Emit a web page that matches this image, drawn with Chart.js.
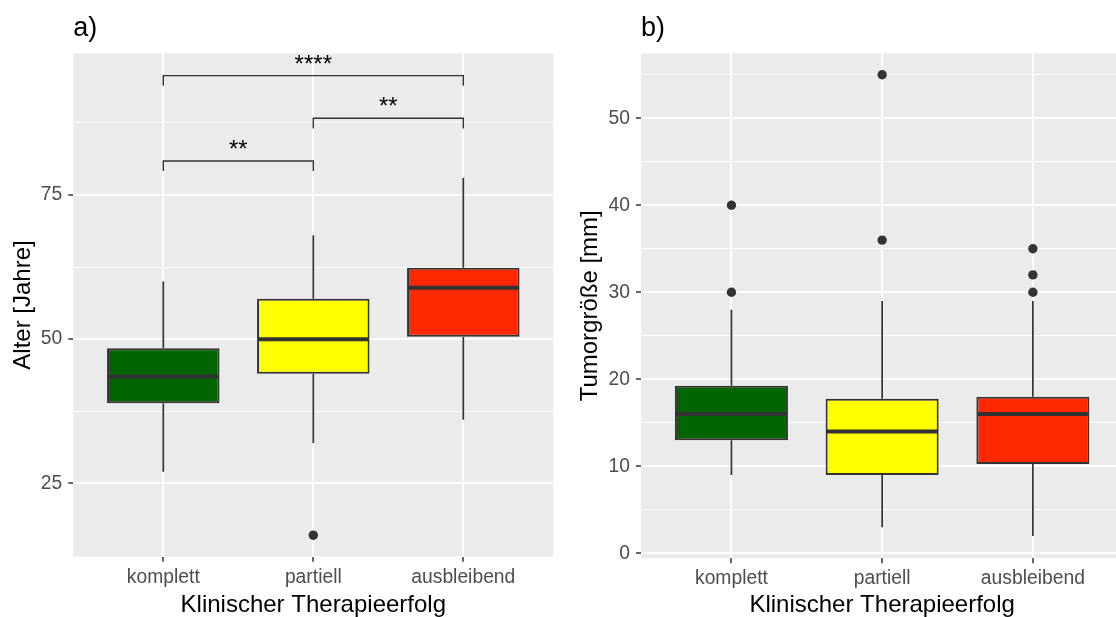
<!DOCTYPE html>
<html>
<head>
<meta charset="utf-8">
<title>Therapieerfolg</title>
<script src="https://cdn.jsdelivr.net/npm/chart.js@4.4.0/dist/chart.umd.min.js"></script>
<style>
  html, body { margin: 0; padding: 0; background: #fff; overflow: hidden; }
  #wrap { position: relative; width: 1116px; height: 617px; overflow: hidden; }
  #panel-a { position: absolute; left: 0; top: 0; }
  #panel-b { position: absolute; left: 558px; top: 0; }
</style>
</head>
<body>
<div id="wrap">
  <canvas id="panel-a" width="558" height="617"></canvas>
  <canvas id="panel-b" width="570" height="617"></canvas>
</div>
<script>
const categories = ['komplett', 'partiell', 'ausbleibend'];
const boxColors = ['#006400', '#FFFF00', '#FF2800'];

// a) Alter
const alterLower = [27, 32, 36];
const alterQ1 = [38.9, 44, 50.4];
const alterMedian = [43.5, 50, 58.9];
const alterQ3 = [48.4, 57, 62.4];
const alterUpper = [60, 68, 78];
const alterOutlierGroup = [1];
const alterOutlierValue = [16];
const alterTicks = [25, 50, 75];
const alterMinorTicks = [37.5, 62.5, 87.5];

// Signifikanz-Klammern (nur a)
const bracketFrom = [0, 1, 0];
const bracketTo = [1, 2, 2];
const bracketY = [80.9, 88.3, 95.7];
const bracketLabel = ['**', '**', '****'];

// b) Tumorgröße
const tumorLower = [9, 3, 2];
const tumorQ1 = [13, 9, 10.25];
const tumorMedian = [16, 14, 16];
const tumorQ3 = [19.25, 17.75, 18];
const tumorUpper = [28, 29, 29];
const tumorOutlierGroup = [0, 0, 1, 1, 2, 2, 2];
const tumorOutlierValue = [30, 40, 36, 55, 30, 32, 35];
const tumorTicks = [0, 10, 20, 30, 40, 50];
const tumorMinorTicks = [5, 15, 25, 35, 45, 55];

const FONT = '"Liberation Sans", Arial, Helvetica, sans-serif';
const INK = '#333333';
Chart.defaults.font.family = FONT;

const panelBackground = {
  id: 'panelBackground',
  beforeDraw(chart) {
    const {ctx, chartArea: a} = chart;
    ctx.save();
    ctx.fillStyle = '#EBEBEB';
    ctx.fillRect(a.left, a.top, a.right - a.left, a.bottom - a.top);
    ctx.restore();
  }
};

// whiskers behind the boxes, median bars on top of them
function boxParts(lower, q1, median, q3, upper) {
  return {
    id: 'boxParts',
    beforeDatasetsDraw(chart) {
      const {ctx, scales: {x, y}} = chart;
      ctx.save();
      ctx.strokeStyle = INK;
      ctx.lineWidth = 1.7;
      lower.forEach((lo, i) => {
        const px = x.getPixelForValue(i);
        ctx.beginPath();
        ctx.moveTo(px, y.getPixelForValue(upper[i]));
        ctx.lineTo(px, y.getPixelForValue(q3[i]));
        ctx.moveTo(px, y.getPixelForValue(q1[i]));
        ctx.lineTo(px, y.getPixelForValue(lo));
        ctx.stroke();
      });
      ctx.restore();
    },
    afterDatasetDraw(chart, args) {
      if (args.index !== 0) return;
      const {ctx, scales: {y}} = chart;
      const bars = chart.getDatasetMeta(0).data;
      ctx.save();
      ctx.strokeStyle = INK;
      ctx.lineWidth = 4;
      median.forEach((m, i) => {
        const b = bars[i];
        const py = y.getPixelForValue(m);
        ctx.beginPath();
        ctx.moveTo(b.x - b.width / 2 + 1, py);
        ctx.lineTo(b.x + b.width / 2 - 1, py);
        ctx.stroke();
      });
      ctx.restore();
    }
  };
}

function tag(text) {
  return {
    id: 'tag',
    afterDraw(chart) {
      const {ctx, chartArea} = chart;
      ctx.save();
      ctx.fillStyle = '#000';
      ctx.font = '27px ' + FONT;
      ctx.textAlign = 'left';
      ctx.textBaseline = 'alphabetic';
      ctx.fillText(text, chartArea.left, 36);
      ctx.restore();
    }
  };
}

const brackets = {
  id: 'brackets',
  afterDatasetsDraw(chart) {
    const {ctx, scales: {x, y}} = chart;
    const tip = 1.75;
    ctx.save();
    ctx.strokeStyle = INK;
    ctx.lineWidth = 1.4;
    ctx.fillStyle = '#000';
    ctx.font = '24px ' + FONT;
    ctx.textAlign = 'center';
    ctx.textBaseline = 'alphabetic';
    bracketY.forEach((v, i) => {
      const x0 = x.getPixelForValue(bracketFrom[i]);
      const x1 = x.getPixelForValue(bracketTo[i]);
      const py = y.getPixelForValue(v);
      const pt = y.getPixelForValue(v - tip);
      ctx.beginPath();
      ctx.moveTo(x0, pt);
      ctx.lineTo(x0, py);
      ctx.lineTo(x1, py);
      ctx.lineTo(x1, pt);
      ctx.stroke();
      ctx.fillText(bracketLabel[i], (x0 + x1) / 2, py - 4);
    });
    ctx.restore();
  }
};

function makePanel(canvasId, p) {
  const config = {
    type: 'bar',
    data: {
      datasets: [{
        type: 'bar',
        data: categories.map((c, i) => ({x: i, y: [p.q1[i], p.q3[i]]})),
        backgroundColor: boxColors,
        borderColor: INK,
        borderWidth: 2,
        borderSkipped: false,
        barPercentage: 0.75,
        categoryPercentage: 1
      }, {
        type: 'scatter',
        data: p.outGroup.map((g, i) => ({x: g, y: p.outValue[i]})),
        pointRadius: 4.7,
        pointBackgroundColor: INK,
        pointBorderWidth: 0
      }]
    },
    options: {
      responsive: false,
      animation: false,
      events: [],
      layout: {padding: {top: 53.3, left: 0, right: p.padRight, bottom: 0}},
      plugins: {legend: {display: false}, tooltip: {enabled: false}},
      scales: {
        x: {
          type: 'linear',
          min: -0.6,
          max: 2.6,
          offset: false,
          afterBuildTicks(scale) {
            scale.ticks = categories.map((c, i) => ({value: i}));
          },
          afterFit(scale) { scale.height = p.xHeight; },
          ticks: {
            callback: (v) => categories[v],
            color: '#4D4D4D',
            font: {size: 19.3},
            padding: 4,
            autoSkip: false,
            maxRotation: 0
          },
          grid: {
            offset: false,
            color: '#FFFFFF',
            lineWidth: 2,
            tickColor: INK,
            tickWidth: 1.5,
            tickLength: 5
          },
          border: {display: false},
          title: {
            display: true,
            text: 'Klinischer Therapieerfolg',
            color: '#000',
            font: {size: 24, lineHeight: 1},
            padding: {top: 0, bottom: 0}
          }
        },
        y: {
          type: 'linear',
          min: p.min,
          max: p.max,
          afterBuildTicks(scale) {
            scale.ticks = p.ticks.map((v) => ({value: v}))
              .concat(p.minor.map((v) => ({value: v, minor: true})));
          },
          afterFit(scale) { scale.width = p.yWidth; },
          ticks: {
            callback: (v) => (p.ticks.includes(v) ? String(v) : ''),
            color: '#4D4D4D',
            font: {size: 19.3},
            padding: 6
          },
          grid: {
            color: '#FFFFFF',
            lineWidth: (c) => (c.tick && c.tick.minor ? 1 : 2),
            tickColor: (c) => (c.tick && c.tick.minor ? 'rgba(0,0,0,0)' : INK),
            tickWidth: 1.5,
            tickLength: 5
          },
          border: {display: false},
          title: {
            display: true,
            text: p.yTitle,
            color: '#000',
            font: {size: 24, lineHeight: 1},
            padding: {top: p.titlePad, bottom: 0}
          }
        }
      }
    },
    plugins: [panelBackground, boxParts(p.lower, p.q1, p.median, p.q3, p.upper), tag(p.tag)].concat(p.extra || [])
  };
  const ctx = document.getElementById(canvasId).getContext('2d');
  return new Chart(ctx, config);
}

window.alterChart = makePanel('panel-a', {
  lower: alterLower, q1: alterQ1, median: alterMedian, q3: alterQ3, upper: alterUpper,
  outGroup: alterOutlierGroup, outValue: alterOutlierValue,
  ticks: alterTicks, minor: alterMinorTicks,
  min: 12.27, max: 99.57,
  yTitle: 'Alter [Jahre]', tag: 'a)',
  yWidth: 73.3, xHeight: 60.3, padRight: 2.7, titlePad: 11.5,
  extra: [brackets]
});

window.tumorChart = makePanel('panel-b', {
  lower: tumorLower, q1: tumorQ1, median: tumorMedian, q3: tumorQ3, upper: tumorUpper,
  outGroup: tumorOutlierGroup, outValue: tumorOutlierValue,
  ticks: tumorTicks, minor: tumorMinorTicks,
  min: -0.575, max: 57.47,
  yTitle: 'Tumorgröße [mm]', tag: 'b)',
  yWidth: 83, xHeight: 58.7, padRight: 4.5, titlePad: 20.8
});
</script>
</body>
</html>
